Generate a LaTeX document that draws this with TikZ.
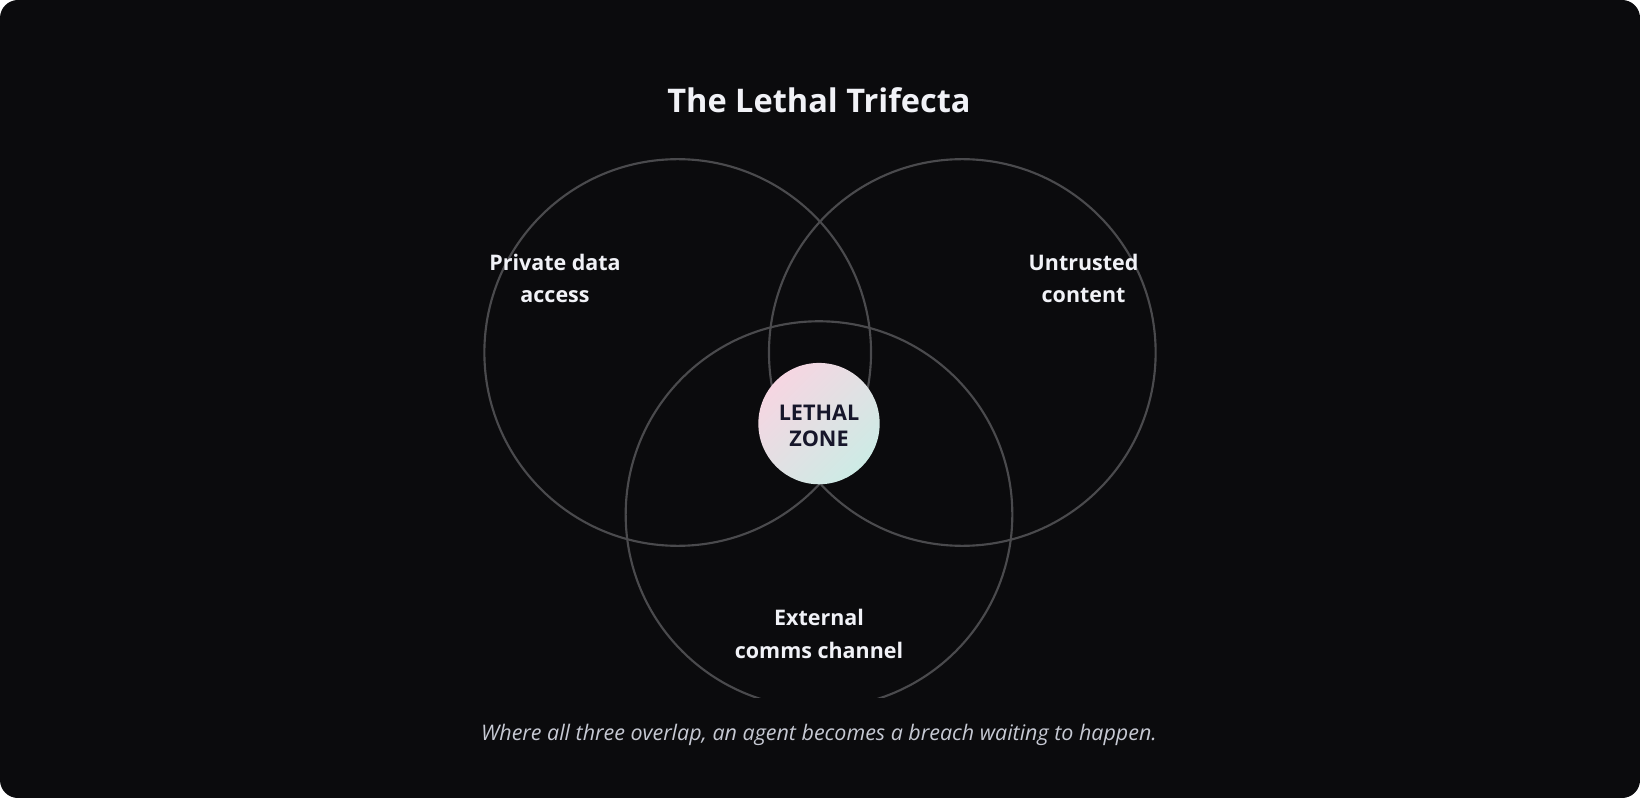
\documentclass[tikz,border=0pt]{standalone}
\usepackage{fontspec}
\setmainfont{Open Sans}
\definecolor{bgc}{HTML}{0B0B0D}
\definecolor{ringc}{HTML}{4A4A4D}
\definecolor{txtc}{HTML}{F1F2F7}
\definecolor{capc}{HTML}{C6C9D3}
\definecolor{zonetxt}{HTML}{16162A}
\definecolor{zpink}{HTML}{F6D6E2}
\definecolor{zlav}{HTML}{E4D4EE}
\definecolor{zmint}{HTML}{CDEBE5}
\tikzset{
  ring/.style={circle, draw=ringc, line width=1.6pt, minimum size=290pt, inner sep=0pt, outer sep=0pt},
  setlabel/.style={text=txtc, align=center, anchor=base, font=\fontsize{16.1}{24.5}\selectfont\bfseries},
}
\begin{document}
\begin{tikzpicture}[x=0.75pt,y=-0.75pt]
\useasboundingbox (0,0) rectangle (1640,798);
\fill[white] (0,0) rectangle (1640,798);
\fill[bgc, rounded corners=13.5pt] (0,0) rectangle (1640,798);
\node[ring] (priv) at (677.7,352.5) {};
\node[ring] (untr) at (962.3,352.5) {};
\begin{scope}
\clip (0,0) rectangle (1640,697);
\node[ring] (ext) at (819,514.6) {};
\end{scope}
\node[circle, minimum size=91pt, inner sep=0pt, top color=zpink, middle color=zlav, bottom color=zmint, shading angle=45] (zone) at (819,423.6) {};
\node[text=zonetxt, align=center, anchor=base, font=\fontsize{16.2}{19.5}\selectfont\bfseries] (zonelbl) at (819,446) {LETHAL\\ZONE};
\node[text=txtc, anchor=base, font=\fontsize{24.4}{30}\selectfont\bfseries] (title) at (819,112.7) {The Lethal Trifecta};
\node[setlabel] (privlbl) at (555,302.7) {Private data\\access};
\node[setlabel] (untrlbl) at (1083.6,302.7) {Untrusted\\content};
\node[setlabel] (extlbl) at (819,658.3) {External\\comms channel};
\node[text=capc, anchor=base, font=\fontsize{16.1}{18}\selectfont\itshape] (caption) at (819,740) {Where all three overlap, an agent becomes a breach waiting to happen.};
\end{tikzpicture}
\end{document}
